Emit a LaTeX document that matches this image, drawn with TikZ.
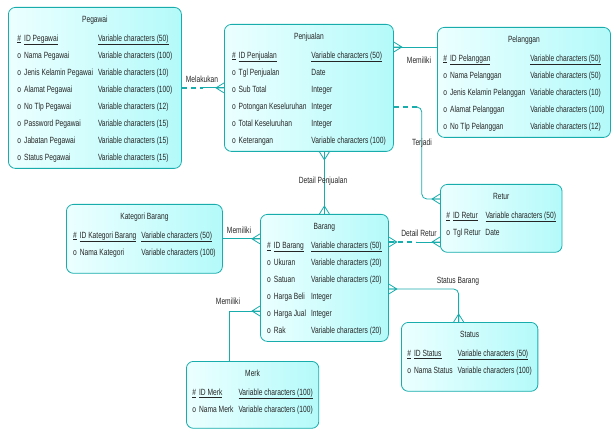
\documentclass[tikz,border=0pt]{standalone}
\usepackage{fontspec}
\setmainfont[FakeStretch=0.74]{Liberation Sans}
\usetikzlibrary{calc}
\definecolor{erline}{RGB}{25,172,172}
\definecolor{erfillA}{RGB}{236,255,255}
\definecolor{erfillB}{RGB}{180,250,250}
\tikzset{
	entity/.style={draw=erline, line width=0.8pt, rounded corners=7pt,
	  left color=erfillA, right color=erfillB, anchor=north west,
	  inner xsep=6pt, inner ysep=3pt, text=black!85,
	  font=\fontsize{9}{17}\selectfont},
	rel/.style={draw=erline, line width=0.8pt},
	reldash/.style={draw=erline, line width=1.6pt, dash pattern=on 5pt off 4pt},
	lbl/.style={font=\fontsize{9}{10}\selectfont, text=black!85, inner sep=1pt}
}
\newcommand{\crow}[2]{\draw[rel, shift={(#1)}, rotate=#2] (0,5) -- (8,0) -- (0,-5) (0,0) -- (8,0);}
\newcommand{\idrow}[2]{\underline{\#} & \underline{#1} & \underline{#2}}
\begin{document}
\begin{tikzpicture}[x=1pt, y=-1pt]
	\useasboundingbox (0,0) rectangle (612,430);
	\node[entity, minimum width=173pt] (pegawai) at (8,7) {%
	  \begin{tabular}[t]{@{}l@{\hspace{3pt}}l@{\hspace{5pt}}l@{}}
	  \multicolumn{3}{c}{Pegawai}\\[2pt]
	  \idrow{ID Pegawai}{Variable characters (50)}\\
	  o & Nama Pegawai & Variable characters (100)\\
	  o & Jenis Kelamin Pegawai & Variable characters (10)\\
	  o & Alamat Pegawai & Variable characters (100)\\
	  o & No Tlp Pegawai & Variable characters (12)\\
	  o & Password Pegawai & Variable characters (15)\\
	  o & Jabatan Pegawai & Variable characters (15)\\
	  o & Status Pegawai & Variable characters (15)
	  \end{tabular}};
	\node[entity, minimum width=169pt] (penjualan) at (224,24) {%
	  \begin{tabular}[t]{@{}l@{\hspace{3pt}}l@{\hspace{5pt}}l@{}}
	  \multicolumn{3}{c}{Penjualan}\\[2pt]
	  \idrow{ID Penjualan}{Variable characters (50)}\\
	  o & Tgl Penjualan & Date\\
	  o & Sub Total & Integer\\
	  o & Potongan Keseluruhan & Integer\\
	  o & Total Keseluruhan & Integer\\
	  o & Keterangan & Variable characters (100)
	  \end{tabular}};
	\node[entity, minimum width=173pt] (pelanggan) at (437,27) {%
	  \begin{tabular}[t]{@{}l@{\hspace{3pt}}l@{\hspace{5pt}}l@{}}
	  \multicolumn{3}{c}{Pelanggan}\\[2pt]
	  \idrow{ID Pelanggan}{Variable characters (50)}\\
	  o & Nama Pelanggan & Variable characters (50)\\
	  o & Jenis Kelamin Pelanggan & Variable characters (10)\\
	  o & Alamat Pelanggan & Variable characters (100)\\
	  o & No Tlp Pelanggan & Variable characters (12)
	  \end{tabular}};
	\node[entity, minimum width=156pt, text depth=51pt] (kategori) at (66,204) {%
	  \begin{tabular}[t]{@{}l@{\hspace{3pt}}l@{\hspace{5pt}}l@{}}
	  \multicolumn{3}{c}{Kategori Barang}\\[2pt]
	  \idrow{ID Kategori Barang}{Variable characters (50)}\\
	  o & Nama Kategori & Variable characters (100)
	  \end{tabular}};
	\node[entity, minimum width=128pt] (barang) at (260,214) {%
	  \begin{tabular}[t]{@{}l@{\hspace{3pt}}l@{\hspace{5pt}}l@{}}
	  \multicolumn{3}{c}{Barang}\\[2pt]
	  \idrow{ID Barang}{Variable characters (50)}\\
	  o & Ukuran & Variable characters (20)\\
	  o & Satuan & Variable characters (20)\\
	  o & Harga Beli & Integer\\
	  o & Harga Jual & Integer\\
	  o & Rak & Variable characters (20)
	  \end{tabular}};
	\node[entity, minimum width=121pt, text depth=50pt] (retur) at (440,184) {%
	  \begin{tabular}[t]{@{}l@{\hspace{3pt}}l@{\hspace{5pt}}l@{}}
	  \multicolumn{3}{c}{Retur}\\[2pt]
	  \idrow{ID Retur}{Variable characters (50)}\\
	  o & Tgl Retur & Date
	  \end{tabular}};
	\node[entity, minimum width=134pt, text depth=51pt] (status) at (401,322) {%
	  \begin{tabular}[t]{@{}l@{\hspace{3pt}}l@{\hspace{5pt}}l@{}}
	  \multicolumn{3}{c}{Status}\\[2pt]
	  \idrow{ID Status}{Variable characters (50)}\\
	  o & Nama Status & Variable characters (100)
	  \end{tabular}};
	\node[entity, minimum width=130pt, text depth=49pt] (merk) at (186,361) {%
	  \begin{tabular}[t]{@{}l@{\hspace{3pt}}l@{\hspace{5pt}}l@{}}
	  \multicolumn{3}{c}{Merk}\\[2pt]
	  \idrow{ID Merk}{Variable characters (100)}\\
	  o & Nama Merk & Variable characters (100)
	  \end{tabular}};

	\coordinate (mk-end) at (penjualan.west |- pegawai.east);
	\coordinate (mk-mid) at ($(pegawai.east)!0.5!(mk-end)$);
	\draw[reldash] (pegawai.east) -- (mk-mid);
	\draw[rel] (mk-mid) -- (mk-end);
	\crow{mk-end}{180}

	\coordinate (pl-a) at ([yshift=-23pt]penjualan.north east);
	\draw[rel] (pl-a) -- (pelanggan.west |- pl-a);
	\crow{pl-a}{0}

	\coordinate (tj-a) at ([yshift=-83pt]penjualan.north east);
	\coordinate (tj-b) at ([yshift=-15pt]retur.north west);
	\coordinate (tj-d) at ($(tj-a)+(24,0)$);
	\coordinate (tj-k) at ($(tj-a)+(28,0)$);
	\draw[reldash] (tj-a) -- (tj-d);
	\draw[rel, rounded corners=5pt] (tj-d) -- (tj-k) -- (tj-k |- tj-b) -- (tj-b);
	\crow{tj-b}{180}

	\coordinate (dp-a) at (penjualan.south -| barang.north);
	\draw[rel] (dp-a) -- (barang.north);
	\crow{dp-a}{-90}
	\crow{barang.north}{90}

	\coordinate (kb-b) at (barang.west |- kategori.east);
	\draw[rel] (kategori.east) -- (kb-b);
	\crow{kb-b}{180}

	\coordinate (dr-b) at ([yshift=-58pt]retur.north west);
	\coordinate (dr-a) at (barang.east |- dr-b);
	\coordinate (dr-m) at ($(dr-a)+(27,0)$);
	\draw[reldash] (dr-a) -- (dr-m);
	\draw[rel] (dr-m) -- (dr-b);
	\crow{dr-a}{0}
	\crow{dr-b}{180}

	\coordinate (sb-a) at ([yshift=-75pt]barang.north east);
	\coordinate (sb-b) at ([xshift=-11pt]status.north);
	\draw[rel, rounded corners=5pt] (sb-a) -- (sb-a -| sb-b) -- (sb-b);
	\crow{sb-a}{0}
	\crow{sb-b}{90}

	\coordinate (mm-a) at ([yshift=-97pt]barang.north west);
	\coordinate (mm-b) at ([xshift=-23pt]merk.north);
	\draw[rel] (mm-a) -- (mm-a -| mm-b) -- (mm-b);
	\crow{mm-a}{180}

	\node[lbl] (l-mk) at (202,79) {Melakukan};
	\node[lbl] (l-pl) at (419,60) {Memiliki};
	\node[lbl] (l-tj) at (422,143) {Terjadi};
	\node[lbl] (l-dp) at (323,181) {Detail Penjualan};
	\node[lbl] (l-kb) at (239,230) {Memiliki};
	\node[lbl] (l-dr) at (419,233) {Detail Retur};
	\node[lbl] (l-sb) at (458,281) {Status Barang};
	\node[lbl] (l-mm) at (228,301) {Memiliki};
\end{tikzpicture}
\end{document}
